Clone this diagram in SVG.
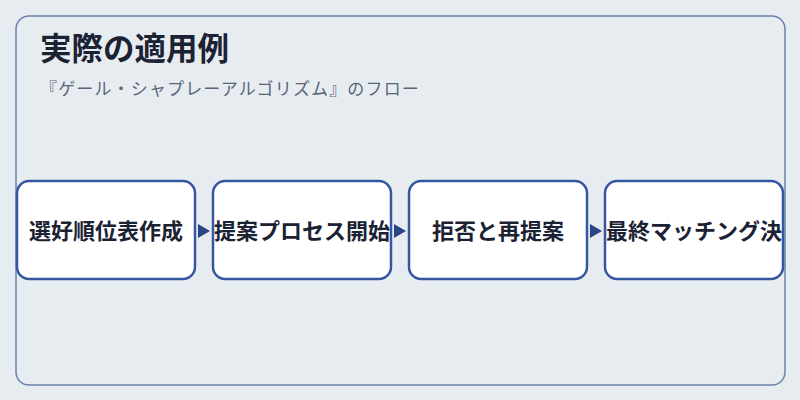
<svg xmlns="http://www.w3.org/2000/svg" width="800" height="400" viewBox="0 0 800 400">
<style>
.title{font-family:"Noto Sans CJK JP","Noto Sans",sans-serif;font-size:31.5px;font-weight:700;fill:#1a2233}
.sub{font-family:"Noto Sans CJK JP","Noto Sans",sans-serif;font-size:17px;fill:#5a6577;letter-spacing:1.15px}
.box{fill:#ffffff;stroke:#3556a0;stroke-width:2.5}
.lbl{font-family:"Noto Sans CJK JP","Noto Sans",sans-serif;font-size:22px;font-weight:700;fill:#1a2233;text-anchor:middle}
.arr{fill:#2a4585}
</style>
<rect x="0" y="0" width="800" height="400" fill="#e7ecf1"/>
<rect x="16" y="16" width="769" height="369" rx="13" fill="#e7ecf1" stroke="#6a82ad" stroke-width="1.5"/>
<text class="title" x="40" y="59.5">実際の適用例</text>
<text class="sub" x="40" y="95">『ゲール・シャプレーアルゴリズム』のフロー</text>
<g id="connectors">
<polygon class="arr" points="198,224 210,231 198,238"/>
<polygon class="arr" points="394,224 406,231 394,238"/>
<polygon class="arr" points="590,224 602,231 590,238"/>
</g>
<g id="n1"><rect class="box" x="17" y="181" width="178" height="98" rx="12"/><text class="lbl" x="106" y="239">選好順位表作成</text></g>
<g id="n2"><rect class="box" x="213" y="181" width="178" height="98" rx="12"/><text class="lbl" x="302" y="239">提案プロセス開始</text></g>
<g id="n3"><rect class="box" x="409" y="181" width="178" height="98" rx="12"/><text class="lbl" x="498" y="239">拒否と再提案</text></g>
<g id="n4"><rect class="box" x="605" y="181" width="178" height="98" rx="12"/><text class="lbl" x="694" y="239">最終マッチング決</text></g>
</svg>
